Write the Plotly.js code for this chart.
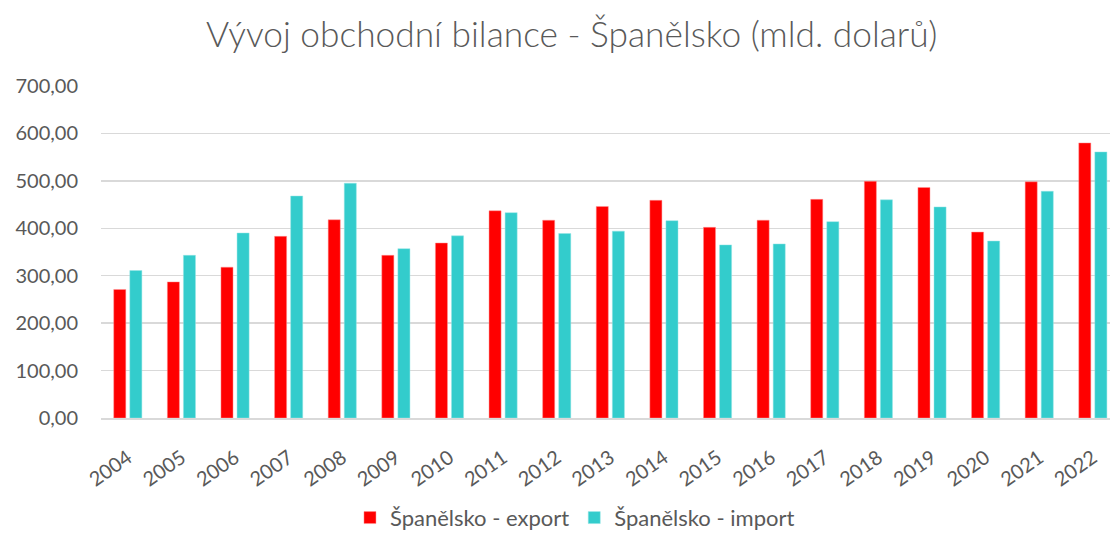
<!DOCTYPE html>
<html>
<head>
<meta charset="utf-8">
<script src="https://cdn.plot.ly/plotly-3.0.1.min.js"></script>
<style>html,body{margin:0;padding:0;background:#fff;}#chart{width:1110px;height:536px;}</style>
</head>
<body>
<div id="chart"></div>
<script>
const years = ["2004","2005","2006","2007","2008","2009","2010","2011","2012","2013","2014","2015","2016","2017","2018","2019","2020","2021","2022"];
const exportValues = [271, 287, 318, 383, 418, 343, 369, 437, 417, 446, 459, 402, 417, 461, 499, 486, 392, 498, 580];
const importValues = [311, 343, 390, 468, 495, 357, 384, 433, 389, 394, 416, 365, 367, 414, 460, 445, 373, 478, 561];
const yTicks = [0, 100, 200, 300, 400, 500, 600, 700];

const FONT = "Lato, 'Open Sans', sans-serif";
const GREY = "#595959";

const traces = [
  {type: "bar", name: "Španělsko - export", x: years, y: exportValues,
   marker: {color: "#ff0000", line: {color: "rgba(255,150,150,0.8)", width: 0.6}}},
  {type: "bar", name: "Španělsko - import", x: years, y: importValues,
   marker: {color: "#33cccc", line: {color: "rgba(150,230,230,0.8)", width: 0.6}}}
];

const layout = {
  width: 1110, height: 536,
  margin: {l: 101, r: 0, t: 86, b: 118, autoexpand: false},
  paper_bgcolor: "#fff", plot_bgcolor: "#fff",
  font: {family: FONT, color: GREY},
  title: {text: "Vývoj obchodní bilance - Španělsko (mld. dolarů)",
          font: {family: FONT, size: 35.3, color: GREY, weight: 300},
          x: 0.515, xanchor: "center", y: 0.935, yanchor: "middle", xref: "container", yref: "container"},
  separators: ", ",
  barmode: "group",
  bargap: 0.40,
  bargroupgap: 0.25,
  xaxis: {type: "category", range: [-0.5, 18.32], tickangle: -35,
          tickfont: {family: FONT, size: 20, color: GREY},
          showgrid: false, showline: true, linecolor: "#d9d9d9", linewidth: 1.5,
          ticks: "", ticklabelstandoff: 19, fixedrange: true},
  yaxis: {range: [0, 700], tickvals: yTicks, tickformat: ".2f",
          tickfont: {family: FONT, size: 20, color: GREY},
          showgrid: true, gridcolor: "#d9d9d9", gridwidth: 1.5,
          zeroline: false, showline: false, ticks: "", ticklabelstandoff: 22, fixedrange: true},
  legend: {orientation: "h", x: 0.518, xanchor: "center", xref: "container",
           y: 0.034, yanchor: "middle", yref: "container",
           font: {family: FONT, size: 22, color: GREY}, itemwidth: 30, traceorder: "normal"},
  showlegend: true
};

Plotly.newPlot("chart", traces, layout, {displayModeBar: false, staticPlot: true});
</script>
</body>
</html>
